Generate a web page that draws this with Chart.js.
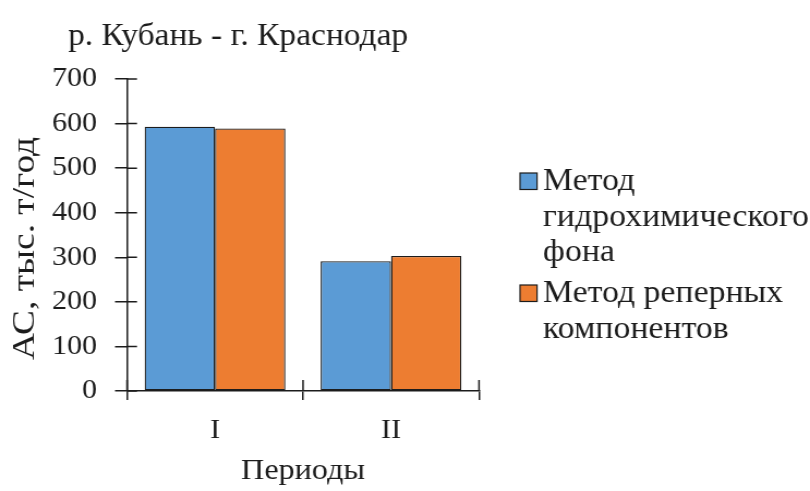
<!DOCTYPE html>
<html>
<head>
<meta charset="utf-8">
<script src="https://cdn.jsdelivr.net/npm/chart.js@4.4.1/dist/chart.umd.min.js"></script>
<style>
  html, body { margin: 0; padding: 0; background: #ffffff; overflow: hidden; }
  #wrap { width: 810px; height: 491px; overflow: hidden; }
  #c { display: block; transform: scaleX(1.09018); transform-origin: 0 0; }
</style>
</head>
<body>
<div id="wrap"><canvas id="c" width="743" height="491"></canvas></div>
<script>
const chartTitle = 'р. Кубань - г. Краснодар';
const categories = ['I', 'II'];
const seriesNames = [['Метод', 'гидрохимического', 'фона'], ['Метод реперных', 'компонентов']];
const seriesColors = ['#5b9bd5', '#ed7d31'];
const seriesBackground = [593, 291];
const seriesReference = [589, 303];
const yTicks = [0, 100, 200, 300, 400, 500, 600, 700];
const xAxisTitle = 'Периоды';
const yAxisTitle = 'АС, тыс. т/год';

const FONT = '"Liberation Serif", "Times New Roman", serif';
const INK = '#1c1c1c';

// title, y-axis title and legend drawn as canvas text
const textPlugin = {
  id: 'texts',
  afterDraw(chart) {
    const ctx = chart.ctx;
    ctx.save();
    ctx.fillStyle = INK;
    // chart title
    ctx.font = '30.7px ' + FONT;
    ctx.textAlign = 'left';
    ctx.textBaseline = 'alphabetic';
    ctx.fillText(chartTitle, 62.4, 45);

    // y-axis title (rotated)
    ctx.save();
    ctx.font = '29px ' + FONT;
    const w = ctx.measureText(yAxisTitle).width;
    ctx.translate(22.9, 248.5);
    ctx.rotate(-Math.PI / 2);
    ctx.scale(223 / w, 1);
    ctx.textAlign = 'center';
    ctx.textBaseline = 'middle';
    ctx.fillText(yAxisTitle, 0, 0);
    ctx.restore();

    // legend
    ctx.font = '31px ' + FONT;
    ctx.textAlign = 'left';
    ctx.textBaseline = 'alphabetic';
    const firstBaselines = [190, 302];
    const lineStep = 35.5;
    seriesNames.forEach((lines, i) => {
      const b = firstBaselines[i];
      ctx.fillStyle = seriesColors[i];
      ctx.fillRect(477, b - 17, 15.6, 16.5);
      ctx.strokeStyle = INK;
      ctx.lineWidth = 1.2;
      ctx.strokeRect(477, b - 17, 15.6, 16.5);
      ctx.fillStyle = INK;
      lines.forEach((t, k) => ctx.fillText(t, 498.1, b + k * lineStep));
    });
    ctx.restore();
  }
};

const innerTicks = {
  id: 'innerTicks',
  afterDatasetsDraw(chart) {
    const ctx = chart.ctx;
    const y = chart.scales.y, x = chart.scales.x;
    ctx.save();
    ctx.strokeStyle = INK;
    ctx.lineWidth = 1.5;
    ctx.beginPath();
    y.ticks.forEach(t => {
      const py = y.getPixelForValue(t.value);
      ctx.moveTo(x.left, py);
      ctx.lineTo(x.left + 9.2, py);
    });
    for (let i = 0; i <= categories.length; i++) {
      const px = x.getPixelForValue(i - 0.5);
      ctx.moveTo(px, y.bottom);
      ctx.lineTo(px, y.bottom - 11);
    }
    ctx.stroke();
    ctx.restore();
  }
};

new Chart(document.getElementById('c'), {
  type: 'bar',
  data: {
    labels: categories,
    datasets: [
      { label: seriesNames[0].join(' '), data: seriesBackground, backgroundColor: seriesColors[0], borderColor: INK, borderWidth: 1.3, borderSkipped: false },
      { label: seriesNames[1].join(' '), data: seriesReference, backgroundColor: seriesColors[1], borderColor: INK, borderWidth: 1.3, borderSkipped: false }
    ]
  },
  options: {
    responsive: false,
    animation: false,
    layout: { padding: { top: 79, left: 0, right: 303.6, bottom: 0 } },
    datasets: { bar: { categoryPercentage: 0.8, barPercentage: 1.0 } },
    plugins: {
      title: { display: false },
      tooltip: { enabled: false },
      legend: { display: false }
    },
    scales: {
      x: {
        grid: { display: true, offset: true, drawOnChartArea: false, drawTicks: true, tickLength: 9, color: INK, lineWidth: 1.5 },
        border: { display: true, color: INK, width: 1.5 },
        ticks: { font: { family: FONT, size: 27.5 }, color: INK, padding: 14.2 },
        title: { display: true, text: xAxisTitle, font: { family: FONT, size: 29.5 }, color: INK, padding: { top: 0, bottom: 2.5 } },
        afterFit(scale) { scale.height = 100; }
      },
      y: {
        min: 0, max: 700,
        afterBuildTicks(scale) { scale.ticks = yTicks.map(v => ({ value: v })); },
        grid: { display: true, drawOnChartArea: false, drawTicks: true, tickLength: 11, color: INK, lineWidth: 1.5 },
        border: { display: true, color: INK, width: 1.5 },
        ticks: { font: { family: FONT, size: 27.5 }, color: INK, padding: 16.5 },
        title: { display: false },
        afterFit(scale) { scale.width = 116.5; }
      }
    }
  },
  plugins: [textPlugin, innerTicks]
});
</script>
</body>
</html>
